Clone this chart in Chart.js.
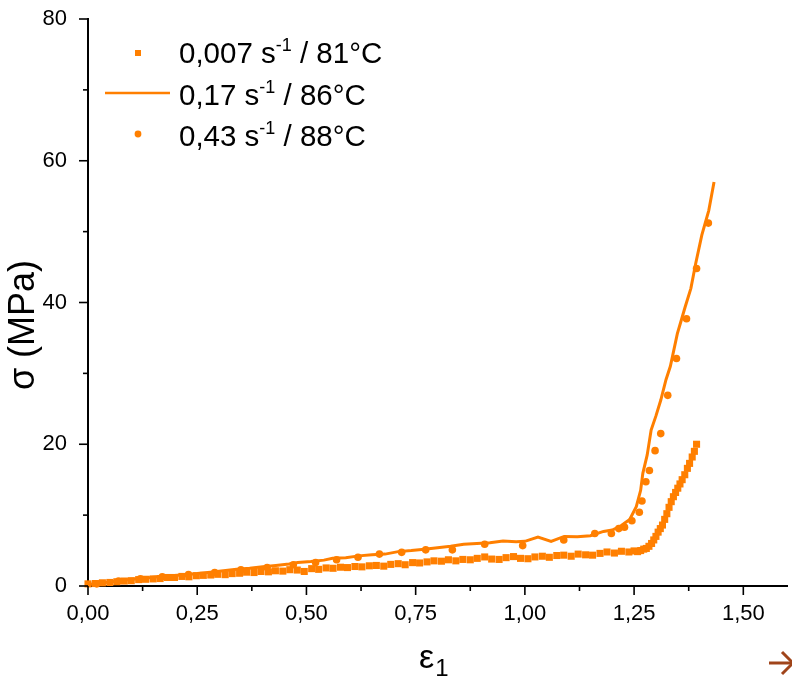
<!DOCTYPE html>
<html><head><meta charset="utf-8">
<script src="https://cdn.jsdelivr.net/npm/chart.js@4/dist/chart.umd.min.js"></script>
<style>html,body{margin:0;padding:0;background:#fff;overflow:hidden}</style>
</head><body>
<canvas id="c" width="792" height="677"></canvas>
<script>
// ---- data ----
const seriesRates = ['0,007', '0,17', '0,43'];
const seriesTemps = ['81°C', '86°C', '88°C'];
const xTickLabels = ['0,00','0,25','0,50','0,75','1,00','1,25','1,50'];
const yTickLabels = ['0','20','40','60','80'];

// 0,007 s-1 / 81°C (squares)
const sqX = [0.000,0.017,0.033,0.050,0.066,0.083,0.099,0.116,0.132,0.149,0.165,0.182,0.198,0.215,0.231,0.248,0.264,0.281,0.297,0.314,0.330,0.347,0.363,0.380,0.396,0.413,0.429,0.446,0.462,0.479,0.495,0.512,0.528,0.545,0.561,0.578,0.594,0.611,0.627,0.644,0.660,0.677,0.693,0.710,0.726,0.743,0.759,0.776,0.792,0.809,0.825,0.842,0.858,0.875,0.891,0.908,0.924,0.941,0.957,0.974,0.990,1.007,1.023,1.040,1.056,1.073,1.089,1.106,1.122,1.139,1.155,1.172,1.188,1.205,1.221,1.238,1.250,1.258,1.265,1.272,1.278,1.284,1.290,1.295,1.300,1.305,1.310,1.315,1.320,1.325,1.330,1.335,1.340,1.345,1.350,1.355,1.360,1.366,1.372,1.377,1.383,1.388,1.393];
const sqY = [0.30,0.35,0.45,0.50,0.60,0.70,0.75,0.90,0.95,1.00,1.05,1.20,1.20,1.35,1.30,1.45,1.50,1.55,1.65,1.60,1.75,1.80,1.95,1.90,2.05,2.00,2.15,2.10,2.30,2.25,2.05,2.45,2.35,2.55,2.50,2.65,2.60,2.75,2.70,2.85,2.90,2.80,3.05,3.15,3.00,3.30,3.25,3.40,3.55,3.50,3.70,3.55,3.75,3.70,3.90,4.10,3.80,3.75,4.00,4.15,3.90,3.85,4.10,4.20,4.05,4.30,4.35,4.20,4.50,4.40,4.35,4.60,4.80,4.65,4.90,4.80,4.95,4.85,5.00,5.20,5.30,5.60,6.00,6.50,7.00,7.60,8.10,8.60,9.40,10.20,11.10,11.90,12.60,13.20,13.80,14.40,15.00,15.70,16.60,17.30,18.20,19.00,20.00];

// 0,17 s-1 / 86°C (line)
const lnX = [0.000,0.020,0.040,0.060,0.080,0.100,0.130,0.160,0.190,0.220,0.250,0.280,0.310,0.340,0.370,0.400,0.430,0.460,0.480,0.510,0.540,0.560,0.590,0.620,0.650,0.680,0.710,0.740,0.770,0.800,0.830,0.860,0.890,0.920,0.950,0.980,1.000,1.030,1.060,1.090,1.120,1.150,1.180,1.200,1.220,1.240,1.255,1.265,1.270,1.280,1.289,1.300,1.311,1.323,1.333,1.349,1.358,1.367,1.380,1.391,1.405,1.421,1.433];
const lnY = [0.20,0.35,0.50,0.65,0.80,0.95,1.10,1.30,1.45,1.60,1.75,1.95,2.15,2.35,2.50,2.70,2.90,3.10,3.30,3.45,3.65,3.90,4.00,4.25,4.40,4.50,4.85,5.00,5.20,5.40,5.60,5.90,6.00,6.10,6.35,6.25,6.30,6.90,6.30,7.00,6.95,7.10,7.70,7.90,8.50,9.40,11.20,13.50,15.90,18.50,22.00,24.00,26.20,29.10,31.00,35.60,37.50,39.40,42.00,45.50,49.50,53.00,57.00];

// 0,43 s-1 / 88°C (dots)
const dtX = [0.020,0.070,0.120,0.170,0.230,0.290,0.350,0.410,0.470,0.521,0.569,0.618,0.667,0.718,0.773,0.834,0.908,0.995,1.089,1.160,1.198,1.215,1.228,1.245,1.262,1.268,1.277,1.285,1.298,1.311,1.327,1.347,1.370,1.393,1.420];
const dtY = [0.30,0.70,1.00,1.30,1.60,1.90,2.30,2.60,3.00,3.30,3.70,4.05,4.50,4.75,5.10,5.10,5.90,5.70,6.50,7.40,7.40,8.10,8.30,9.20,10.40,12.00,14.70,16.30,19.10,21.50,26.90,32.10,37.70,44.80,51.20];

const ORANGE = '#FF7F00';
const FONT = '"Liberation Sans", Arial, sans-serif';
const toPts = (xs, ys) => xs.map((x, i) => ({x: x, y: ys[i]}));

const decorPlugin = {
  id: 'decor',
  afterDraw(chart) {
    const ctx = chart.ctx;
    const xs = chart.scales.x, ys = chart.scales.y;
    const x0 = xs.getPixelForValue(0), y0 = ys.getPixelForValue(0);
    ctx.save();
    ctx.strokeStyle = '#000';
    ctx.lineWidth = 1.6;
    for (let v = 0; v <= 80; v += 10) {
      const p = ys.getPixelForValue(v);
      const len = (v % 20 === 0) ? 9 : 5;
      ctx.beginPath(); ctx.moveTo(x0, p); ctx.lineTo(x0 - len, p); ctx.stroke();
    }
    for (let k = 0; k <= 12; k++) {
      const v = k * 0.125;
      const p = xs.getPixelForValue(v);
      const len = (k % 2 === 0) ? 9 : 5;
      ctx.beginPath(); ctx.moveTo(p, y0); ctx.lineTo(p, y0 + len); ctx.stroke();
    }
    // axis titles
    ctx.fillStyle = '#000';
    ctx.save();
    ctx.translate(24, 325);
    ctx.rotate(-Math.PI / 2);
    ctx.font = '36px ' + FONT;
    ctx.textAlign = 'center';
    ctx.textBaseline = 'middle';
    ctx.fillText('σ (MPa)', 0, 0);
    ctx.restore();
    ctx.textAlign = 'left';
    ctx.textBaseline = 'alphabetic';
    ctx.font = '34px ' + FONT;
    ctx.fillText('ε', 419, 668);
    const ew = ctx.measureText('ε').width;
    ctx.font = '24px ' + FONT;
    ctx.fillText('1', 419 + ew + 1, 676);

    // legend
    const rows = [53, 95, 136];
    ctx.fillStyle = ORANGE;
    ctx.fillRect(138 - 3, rows[0] - 3, 6, 6);
    ctx.strokeStyle = ORANGE; ctx.lineWidth = 2.6;
    ctx.beginPath(); ctx.moveTo(105, rows[1] - 2); ctx.lineTo(170, rows[1] - 2); ctx.stroke();
    ctx.beginPath(); ctx.arc(138, rows[2] - 2, 3.4, 0, Math.PI * 2); ctx.fill();
    ctx.fillStyle = '#000';
    for (let i = 0; i < 3; i++) {
      const base = rows[i] + 10;
      let x = 179;
      ctx.font = '29.5px ' + FONT;
      const a = seriesRates[i] + ' s';
      ctx.fillText(a, x, base); x += ctx.measureText(a).width;
      ctx.font = '18px ' + FONT;
      ctx.fillText('-1', x, base - 12); x += ctx.measureText('-1').width;
      ctx.font = '29.5px ' + FONT;
      ctx.fillText(' / ' + seriesTemps[i], x, base);
    }

    // partial arrow at bottom-right edge
    ctx.strokeStyle = '#A0441A'; ctx.lineWidth = 3;
    ctx.beginPath(); ctx.moveTo(769, 663); ctx.lineTo(792, 663); ctx.stroke();
    ctx.beginPath(); ctx.moveTo(782, 652); ctx.lineTo(793, 663); ctx.lineTo(782, 674); ctx.stroke();
    ctx.restore();
  }
};

new Chart(document.getElementById('c'), {
  type: 'scatter',
  data: {
    datasets: [
      { label: seriesRates[0] + ' s-1 / ' + seriesTemps[0], data: toPts(sqX, sqY), showLine: false,
        pointStyle: 'rect', pointRadius: 5, borderWidth: 0, backgroundColor: ORANGE, borderColor: ORANGE, clip: false },
      { label: seriesRates[1] + ' s-1 / ' + seriesTemps[1], data: toPts(lnX, lnY), showLine: true,
        pointRadius: 0, borderWidth: 3, borderColor: ORANGE, backgroundColor: ORANGE, tension: 0, clip: false },
      { label: seriesRates[2] + ' s-1 / ' + seriesTemps[2], data: toPts(dtX, dtY), showLine: false,
        pointStyle: 'circle', pointRadius: 3.8, borderWidth: 0, backgroundColor: ORANGE, borderColor: ORANGE, clip: false }
    ]
  },
  options: {
    responsive: false,
    animation: false,
    devicePixelRatio: 1,
    layout: { padding: { top: 19, right: 0, left: 0, bottom: 0 } },
    plugins: { legend: { display: false }, tooltip: { enabled: false } },
    scales: {
      x: {
        type: 'linear', min: 0, max: 1.6,
        afterFit: s => { s.height = 91; },
        grid: { display: true, drawOnChartArea: false, drawTicks: true, tickLength: 15, tickColor: 'rgba(0,0,0,0)' },
        border: { display: true, color: '#000', width: 2 },
        ticks: {
          stepSize: 0.25, includeBounds: false, padding: 0, color: '#000',
          font: { size: 22, family: FONT },
          callback: (v) => { const i = Math.round(v / 0.25); return (Math.abs(v - i * 0.25) < 1e-6 && xTickLabels[i]) ? xTickLabels[i] : ''; }
        }
      },
      y: {
        type: 'linear', min: 0, max: 80,
        afterFit: s => { s.width = 88; },
        grid: { display: true, drawOnChartArea: false, drawTicks: true, tickLength: 21, tickColor: 'rgba(0,0,0,0)' },
        border: { display: true, color: '#000', width: 2 },
        ticks: {
          stepSize: 20, padding: 0, color: '#000',
          font: { size: 22, family: FONT },
          callback: (v) => { const i = Math.round(v / 20); return yTickLabels[i] !== undefined ? yTickLabels[i] : ''; }
        }
      }
    }
  },
  plugins: [decorPlugin]
});
</script>
</body></html>
